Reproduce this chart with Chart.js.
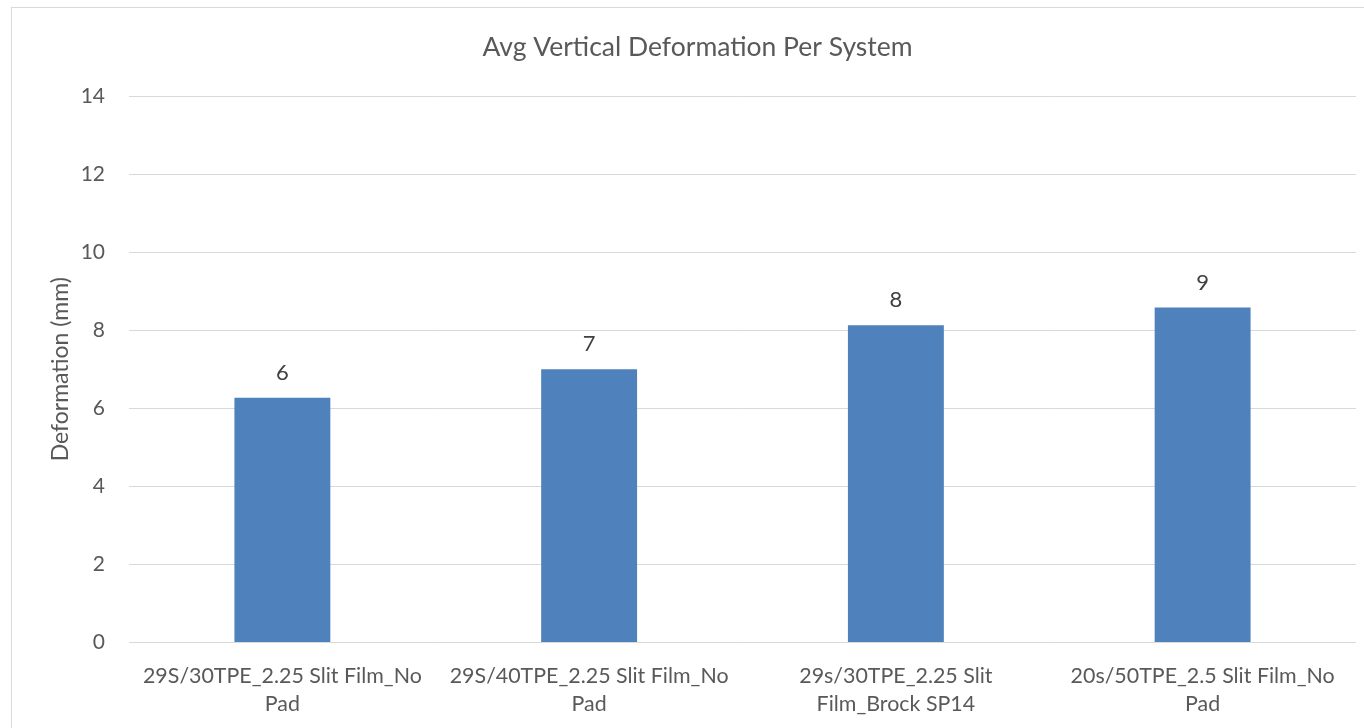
<!DOCTYPE html>
<html>
<head>
<meta charset="utf-8">
<script src="https://cdn.jsdelivr.net/npm/chart.js@4"></script>
<style>
  body { margin: 0; background: #fff; }
  #wrap { position: relative; width: 1364px; height: 728px; overflow: hidden; }
  #frame { position: absolute; left: 11px; top: 7px; width: 1400px; height: 800px;
           border-left: 1px solid #d9d9d9; border-top: 1px solid #d9d9d9; }
  canvas { position: absolute; left: 0; top: 0; }
</style>
</head>
<body>
<div id="wrap">
  <div id="frame"></div>
  <canvas id="chart" width="1364" height="728"></canvas>
</div>
<script>
const categories = [
  ["29S/30TPE_2.25 Slit Film_No", "Pad"],
  ["29S/40TPE_2.25 Slit Film_No", "Pad"],
  ["29s/30TPE_2.25 Slit", "Film_Brock SP14"],
  ["20s/50TPE_2.5 Slit Film_No", "Pad"]
];
const deformation = [6.27, 7.0, 8.13, 8.58];
const yMin = 0;
const yMax = 14;
const yStep = 2;

const FONT = "Lato, 'Open Sans', sans-serif";

// value labels above the bars, rounded like the source
const barLabels = {
  id: "barLabels",
  afterDatasetsDraw(chart) {
    const ctx = chart.ctx;
    const meta = chart.getDatasetMeta(0);
    ctx.save();
    ctx.font = "22px " + FONT;
    ctx.fillStyle = "#404040";
    ctx.textAlign = "center";
    ctx.textBaseline = "middle";
    meta.data.forEach((bar, i) => {
      ctx.fillText(Math.round(deformation[i]), bar.x, bar.y - 25);
    });
    ctx.restore();
  }
};

new Chart(document.getElementById("chart"), {
  type: "bar",
  data: {
    labels: categories,
    datasets: [{
      data: deformation,
      backgroundColor: "#4f81bd",
      borderWidth: 0,
      barPercentage: 0.3127,
      categoryPercentage: 1
    }]
  },
  options: {
    responsive: false,
    animation: false,
    devicePixelRatio: 1,
    // left padding keeps the title centred over the frame
    layout: { padding: { left: 39, right: 8, top: 0, bottom: 0 } },
    plugins: {
      legend: { display: false },
      tooltip: { enabled: false },
      title: {
        display: true,
        text: "Avg Vertical Deformation Per System",
        color: "#595959",
        font: { family: FONT, size: 26.5, weight: "normal", lineHeight: 1.2 },
        padding: { top: 31.1, bottom: 33.1 }
      }
    },
    scales: {
      x: {
        grid: { display: false },
        border: { display: false },
        ticks: {
          color: "#595959",
          font: { family: FONT, size: 21.4, lineHeight: "28px" },
          padding: 11.5,
          maxRotation: 0,
          autoSkip: false
        },
        afterFit(scale) { scale.height = 85.5; }
      },
      y: {
        min: yMin,
        max: yMax,
        grid: { color: "#d9d9d9", lineWidth: 1, drawTicks: false },
        border: { display: false },
        ticks: {
          stepSize: yStep,
          color: "#595959",
          font: { family: FONT, size: 21 },
          padding: 24
        },
        title: {
          display: true,
          text: "Deformation (mm)",
          color: "#595959",
          font: { family: FONT, size: 23 },
          padding: { top: 8, bottom: 0 }
        },
        afterFit(scale) { scale.width = 90; }
      }
    }
  },
  plugins: [barLabels]
});
</script>
</body>
</html>
